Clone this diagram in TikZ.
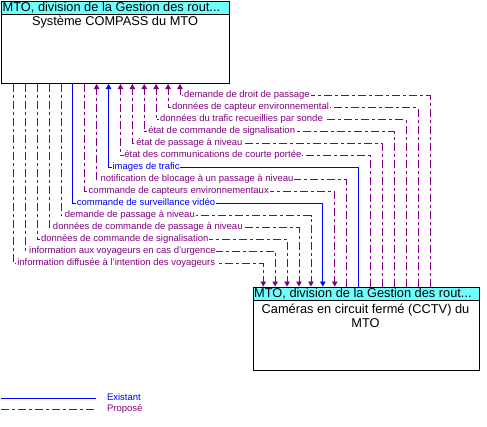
\documentclass[tikz,border=0pt]{standalone}
\usepackage{fontspec}
\setmainfont{Liberation Sans}
\usetikzlibrary{arrows.meta}
\definecolor{colp}{RGB}{128,0,128}
\definecolor{cole}{RGB}{0,0,255}
\definecolor{hdr}{RGB}{112,255,255}
\begin{document}
\begin{tikzpicture}[x=1pt,y=-1pt,
  box/.style={draw=black, line width=1pt, anchor=north west, inner sep=0pt},
  hdrbox/.style={box, fill=hdr},
  boxfont/.style={font=\fontsize{12.8}{14}\selectfont},
  lbl/.style={font=\fontsize{9.5}{10}\selectfont, fill=white, inner sep=0.8pt, anchor=west, text height=6.8pt, text depth=2pt},
  flowp/.style={draw=colp, line width=0.8pt, dash pattern=on 8pt off 3pt on 3pt off 3pt},
  flowe/.style={draw=cole, line width=0.8pt},
  tip/.style={-{Triangle[length=5pt,width=5.5pt]}}
]
\useasboundingbox (0,0) rectangle (487,426);

% top box
\node[box, minimum width=228pt, minimum height=82pt] (top) at (1,1) {};
\node[hdrbox, minimum width=228pt, minimum height=13pt] (toph) at (1,1) {};
\node[boxfont, anchor=west, inner sep=0pt] (tophtxt) at (2.5,7.6) {MTO, division de la Gestion des rout...};
\node[boxfont, inner sep=0pt] (toptxt) at (115,21.7) {Système COMPASS du MTO};

% bottom box
\node[box, minimum width=226.5pt, minimum height=83pt] (bot) at (252.5,286.5) {};
\node[hdrbox, minimum width=226.5pt, minimum height=13.5pt] (both) at (252.5,286.5) {};
\node[boxfont, anchor=west, inner sep=0pt] (bothtxt) at (254,293.6) {MTO, division de la Gestion des rout...};
\node[boxfont, inner sep=0pt, align=center] (bottxt) at (365.5,315.5) {Caméras en circuit fermé (CCTV) du\\MTO};

% flows towards the top box
\foreach \i/\c/\lab in {
  1/p/demande de droit de passage,
  2/p/données de capteur environnemental,
  3/p/données du trafic recueillies par sonde,
  4/p/état de commande de signalisation,
  5/p/état de passage à niveau,
  6/p/état des communications de courte portée,
  7/e/images de trafic,
  8/p/notification de blocage à un passage à niveau}{
  \pgfmathsetmacro{\tx}{180-(\i-1)*11.91}
  \pgfmathsetmacro{\bx}{430-(\i-1)*11.91}
  \pgfmathsetmacro{\ly}{95.5+(\i-1)*12}
  \coordinate (tp\i) at (\tx,\ly);
  \coordinate (bp\i) at (\bx,\ly);
  \draw[flow\c, tip] (bot.north -| bp\i) |- (tp\i) -- (top.south -| tp\i);
  \node[lbl, text=col\c] (l\i) at ([xshift=3pt]tp\i) {\lab};
}

% flows towards the bottom box
\foreach \i/\c/\lab in {
  9/p/commande de capteurs environnementaux,
  10/e/commande de surveillance vidéo,
  11/p/demande de passage à niveau,
  12/p/données de commande de passage à niveau,
  13/p/données de commande de signalisation,
  14/p/information aux voyageurs en cas d'urgence,
  15/p/information diffusée à l'intention des voyageurs}{
  \pgfmathsetmacro{\tx}{180-(\i-1)*11.91}
  \pgfmathsetmacro{\bx}{430-(\i-1)*11.91}
  \pgfmathsetmacro{\ly}{95.5+(\i-1)*12}
  \coordinate (tp\i) at (\tx,\ly);
  \coordinate (bp\i) at (\bx,\ly);
  \draw[flow\c, tip] (top.south -| tp\i) |- (bp\i) -- (bot.north -| bp\i);
  \node[lbl, text=col\c] (l\i) at ([xshift=3pt]tp\i) {\lab};
}

% legend
\coordinate (le1) at (1,398.5);
\coordinate (le2) at (96,398.5);
\coordinate (lp1) at (1,409.5);
\coordinate (lp2) at (96,409.5);
\draw[flowe] (le1) -- (le2);
\draw[flowp] (lp1) -- (lp2);
\node[lbl, fill=none, text=cole] (lex) at (106,398.5) {Existant};
\node[lbl, fill=none, text=colp] (lpr) at (106,409.5) {Proposé};
\end{tikzpicture}
\end{document}
